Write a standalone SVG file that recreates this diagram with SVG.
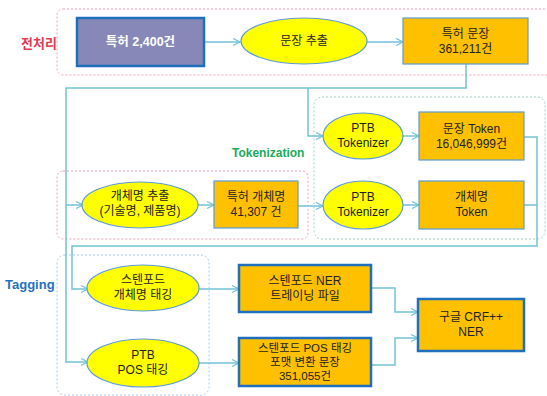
<svg xmlns="http://www.w3.org/2000/svg" width="547" height="396" viewBox="0 0 547 396">
<defs>
<style>
text{font-family:"Liberation Sans","Noto Sans CJK KR",sans-serif;font-size:12px;fill:#222;text-anchor:middle}
.sm{font-size:11.5px}
.grp{fill:none;stroke-width:1;stroke-dasharray:2,2}
.pink{stroke:#f0a0b0}
.green{stroke:#98d8bc}
.blue{stroke:#a8cce8}
.ell{fill:#ffff00;stroke:#5b9bd5;stroke-width:1.2}
.box{fill:#ffc000;stroke:#5b9bd5;stroke-width:1.2}
.boxb{fill:#ffc000;stroke:#1f6fbf;stroke-width:2.5}
.conn{fill:none;stroke:#72c2d8;stroke-width:1.5}
.lbl{font-weight:bold;font-size:13px;text-anchor:start}
</style>
<marker id="arr" markerWidth="10" markerHeight="10" refX="8" refY="4" orient="auto" markerUnits="userSpaceOnUse">
<path d="M1,0.5 L8,4 L1,7.5" fill="none" stroke="#72c2d8" stroke-width="1.2"/>
</marker>
</defs>
<rect width="547" height="396" fill="#ffffff"/>

<g id="groups">
<rect class="grp pink" x="57" y="9" width="500" height="66" rx="6"/>
<rect class="grp green" x="314" y="97" width="231" height="142" rx="8"/>
<rect class="grp pink" x="57" y="171" width="251" height="68" rx="6"/>
<rect class="grp blue" x="57" y="255" width="152" height="140" rx="8"/>
<text class="lbl" x="21" y="48" style="fill:#e03c50">전처리</text>
<text class="lbl" x="232" y="157" style="fill:#1aaa5a;font-size:12px">Tokenization</text>
<text class="lbl" x="5" y="289" style="fill:#1f72c0">Tagging</text>
</g>

<g id="connectors">
<path class="conn" d="M204,42 L240,42" marker-end="url(#arr)"/>
<path class="conn" d="M367,42 L403,42" marker-end="url(#arr)"/>
<path class="conn" d="M466,64 L466,88 L66,88 L66,205 L83,205" marker-end="url(#arr)"/>
<path class="conn" d="M308,88 L308,136 L323,136" marker-end="url(#arr)"/>
<path class="conn" d="M66,205 L66,362 L88,362" marker-end="url(#arr)"/>
<path class="conn" d="M198,205 L214,205" marker-end="url(#arr)"/>
<path class="conn" d="M298,206 L323,206" marker-end="url(#arr)"/>
<path class="conn" d="M403,136 L419,136" marker-end="url(#arr)"/>
<path class="conn" d="M403,205 L419,205" marker-end="url(#arr)"/>
<path class="conn" d="M524,137 L537,137 L537,246 L72,246 L72,289 L88,289" marker-end="url(#arr)"/>
<path class="conn" d="M524,205 L537,205"/>
<path class="conn" d="M199,289 L239,289" marker-end="url(#arr)"/>
<path class="conn" d="M199,363 L239,363" marker-end="url(#arr)"/>
<path class="conn" d="M372,288 L395,288 L395,312 L418,312" marker-end="url(#arr)"/>
<path class="conn" d="M372,365 L395,365 L395,338 L418,338" marker-end="url(#arr)"/>
</g>

<g id="patent">
<rect x="77" y="18" width="127" height="48" fill="#8888b8" stroke="#1f6fbf" stroke-width="2.5"/>
<text x="140.5" y="46" style="fill:#ffffff;font-weight:bold;font-size:12.5px">특허 2,400건</text>
</g>
<g id="sentence-extract">
<ellipse class="ell" cx="304" cy="41" rx="63" ry="23"/>
<text x="304" y="45">문장 추출</text>
</g>
<g id="patent-sentence">
<rect class="box" x="403" y="18" width="125" height="46"/>
<text x="465.5" y="38">특허 문장</text>
<text x="465.5" y="53">361,211건</text>
</g>
<g id="ptb-tokenizer-1">
<ellipse class="ell" cx="363" cy="136" rx="40" ry="23"/>
<text x="363" y="132">PTB</text>
<text x="363" y="147">Tokenizer</text>
</g>
<g id="sentence-token">
<rect class="box" x="419" y="112" width="105" height="48"/>
<text x="471.5" y="133">문장 Token</text>
<text x="471.5" y="148">16,046,999건</text>
</g>
<g id="entity-extract">
<ellipse class="ell" cx="140" cy="205" rx="58" ry="23"/>
<text x="140" y="200">개체명 추출</text>
<text x="140" y="215">(기술명, 제품명)</text>
</g>
<g id="patent-entity">
<rect class="box" x="214" y="181" width="84" height="47"/>
<text x="256" y="201">특허 개체명</text>
<text x="256" y="216">41,307 건</text>
</g>
<g id="ptb-tokenizer-2">
<ellipse class="ell" cx="363" cy="205" rx="40" ry="24"/>
<text x="363" y="201">PTB</text>
<text x="363" y="216">Tokenizer</text>
</g>
<g id="entity-token">
<rect class="box" x="419" y="181" width="105" height="48"/>
<text x="471.5" y="201">개체명</text>
<text x="471.5" y="216">Token</text>
</g>
<g id="stanford-ner-tagging">
<ellipse class="ell" cx="143" cy="288" rx="56" ry="23"/>
<text x="143" y="284">스텐포드</text>
<text x="143" y="299">개체명 태깅</text>
</g>
<g id="ptb-pos-tagging">
<ellipse class="ell" cx="143" cy="363" rx="56" ry="24"/>
<text x="143" y="359">PTB</text>
<text x="143" y="374">POS 태깅</text>
</g>
<g id="stanford-ner-file">
<rect class="boxb" x="239" y="265" width="132" height="47"/>
<text x="305" y="285">스텐포드 NER</text>
<text x="305" y="300">트레이닝 파일</text>
</g>
<g id="stanford-pos-file">
<rect class="boxb" x="239" y="338" width="132" height="48"/>
<text class="sm" x="305" y="352">스텐포드 POS 태깅</text>
<text class="sm" x="305" y="366">포맷 변환 문장</text>
<text class="sm" x="305" y="380">351,055건</text>
</g>
<g id="google-crf">
<rect class="boxb" x="418" y="299" width="106" height="52"/>
<text x="471" y="321">구글 CRF++</text>
<text x="471" y="336">NER</text>
</g>
</svg>
